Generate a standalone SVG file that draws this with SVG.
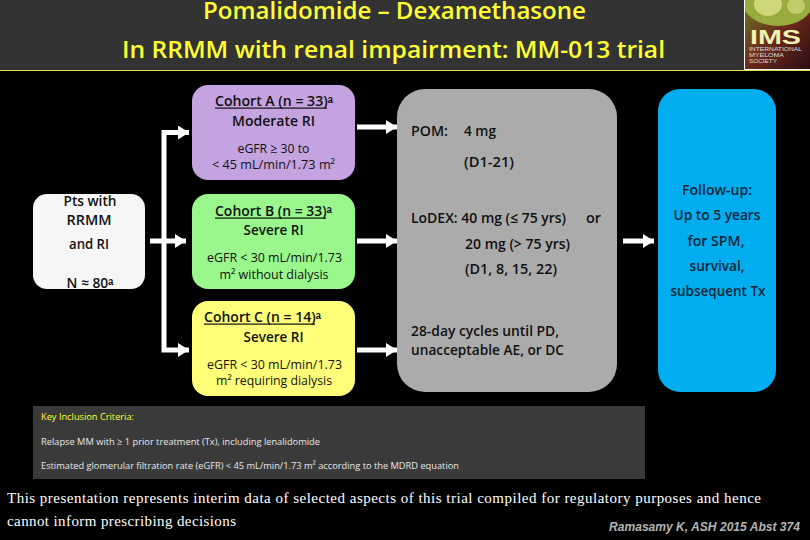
<svg xmlns="http://www.w3.org/2000/svg" width="810" height="540" viewBox="0 0 810 540">
<style>
text{font-family:"Open Sans","Liberation Sans","DejaVu Sans",sans-serif;font-weight:600;fill:#111}
.c{text-anchor:middle}
.t{font-size:24px;fill:#ffff33}
.h{font-size:14.500px}
.ul{fill:#111}
.n{font-size:14.500px}
.s{font-size:13px;font-weight:500}
.b{font-size:14.500px}
.u{fill:#0a2438}
.k{font-size:9.500px;font-weight:400;fill:#e8e8e8}
.f{font-family:"Liberation Serif",serif;font-size:15px;font-weight:400;fill:#fff}
.w{fill:none;stroke:#fff;stroke-width:5}
</style>
<defs>
<marker id="a" markerUnits="userSpaceOnUse" markerWidth="12" markerHeight="16" refX="11" refY="7" orient="auto"><path d="M0 0L11 7L0 14Z" fill="#fff"/></marker>
<linearGradient id="lg" x1="0" y1="0" x2="1" y2="1"><stop offset="0" stop-color="#6a7a24"/><stop offset=".5" stop-color="#6a2a1c"/><stop offset="1" stop-color="#2c0d12"/></linearGradient>
<clipPath id="lc"><rect x="745" y="0" width="65" height="69"/></clipPath>
</defs>
<rect width="810" height="540" fill="#000"/>
<g id="header">
<rect width="810" height="70" fill="#333"/>
<rect y="70" width="810" height="1" fill="#e6dc50"/>
<text class="t c" x="394.500" y="18.500" textLength="383" lengthAdjust="spacingAndGlyphs">Pomalidomide – Dexamethasone</text>
<text class="t c" x="393.500" y="58" textLength="543" lengthAdjust="spacingAndGlyphs">In RRMM with renal impairment: MM-013 trial</text>
</g>
<g id="logo">
<rect x="744" y="0" width="66" height="70" fill="#fff"/>
<rect x="745" y="0" width="65" height="69" fill="url(#lg)"/>
<g clip-path="url(#lc)">
<ellipse cx="778" cy="0" rx="36" ry="26" fill="#9aab3e"/>
<ellipse cx="768" cy="4" rx="14" ry="12" fill="#cfd67a"/>
<ellipse cx="796" cy="6" rx="9" ry="8" fill="#c3cc6c"/>
</g>
<text x="750" y="44" style="font-family:'Liberation Sans',sans-serif;font-weight:700;font-size:20px;fill:#f2f2b0" textLength="51" lengthAdjust="spacingAndGlyphs">IMS</text>
<text x="749" y="51" style="font-family:'Liberation Sans',sans-serif;font-weight:400;font-size:5.500px;fill:#ddd" textLength="53" lengthAdjust="spacingAndGlyphs">INTERNATIONAL</text>
<text x="749" y="57" style="font-family:'Liberation Sans',sans-serif;font-weight:400;font-size:5.500px;fill:#ddd" textLength="35" lengthAdjust="spacingAndGlyphs">MYELOMA</text>
<text x="749" y="63" style="font-family:'Liberation Sans',sans-serif;font-weight:400;font-size:5.500px;fill:#ddd" textLength="28" lengthAdjust="spacingAndGlyphs">SOCIETY</text>
</g>
<g id="connectors">
<path class="w" d="M164 240V132.500H189" marker-end="url(#a)"/>
<path class="w" d="M164 240V350H189" marker-end="url(#a)"/>
<path class="w" d="M150 241H186" marker-end="url(#a)"/>
<path class="w" d="M357 127H397" marker-end="url(#a)"/>
<path class="w" d="M357 241H397" marker-end="url(#a)"/>
<path class="w" d="M357 350H397" marker-end="url(#a)"/>
<path class="w" d="M623 241H654" marker-end="url(#a)"/>
</g>
<g id="pts">
<rect x="33" y="194" width="112" height="95" rx="14" fill="#f6f6f6"/>
<text class="n c" x="90" y="206" textLength="53" lengthAdjust="spacingAndGlyphs">Pts with</text>
<text class="n c" x="89" y="225" textLength="45" lengthAdjust="spacingAndGlyphs">RRMM</text>
<text class="n c" x="89" y="249" textLength="40" lengthAdjust="spacingAndGlyphs">and RI</text>
<text class="n c" x="90" y="288" textLength="47" lengthAdjust="spacingAndGlyphs">N ≈ 80ᵃ</text>
</g>
<g id="cohort-a">
<rect x="192" y="85" width="163" height="95" rx="16" fill="#c4a3e0"/>
<text class="h" x="215" y="106" textLength="118" lengthAdjust="spacingAndGlyphs">Cohort A (n = 33)ᵃ</text>
<rect class="ul" x="215" y="107.500" width="112" height="1.200"/>
<text class="n c" x="273.500" y="126" textLength="83" lengthAdjust="spacingAndGlyphs">Moderate RI</text>
<text class="s c" x="273.500" y="153" textLength="72" lengthAdjust="spacingAndGlyphs">eGFR ≥ 30 to</text>
<text class="s c" x="273.500" y="169" textLength="123" lengthAdjust="spacingAndGlyphs">&lt; 45 mL/min/1.73 m²</text>
</g>
<g id="cohort-b">
<rect x="192" y="194" width="163" height="95" rx="16" fill="#99f78c"/>
<text class="h" x="215" y="216" textLength="117" lengthAdjust="spacingAndGlyphs">Cohort B (n = 33)ᵃ</text>
<rect class="ul" x="215" y="217.500" width="111" height="1.200"/>
<text class="n c" x="273.500" y="235" textLength="60" lengthAdjust="spacingAndGlyphs">Severe RI</text>
<text class="s c" x="274.500" y="262" textLength="135" lengthAdjust="spacingAndGlyphs">eGFR &lt; 30 mL/min/1.73</text>
<text class="s c" x="274" y="279" textLength="109" lengthAdjust="spacingAndGlyphs">m² without dialysis</text>
</g>
<g id="cohort-c">
<rect x="192" y="301" width="163" height="95" rx="16" fill="#ffff79"/>
<text class="h" x="204" y="322" textLength="117" lengthAdjust="spacingAndGlyphs">Cohort C (n = 14)ᵃ</text>
<rect class="ul" x="204" y="323.500" width="111" height="1.200"/>
<text class="n c" x="273.500" y="342" textLength="60" lengthAdjust="spacingAndGlyphs">Severe RI</text>
<text class="s c" x="274.500" y="369" textLength="135" lengthAdjust="spacingAndGlyphs">eGFR &lt; 30 mL/min/1.73</text>
<text class="s c" x="274" y="385" textLength="116" lengthAdjust="spacingAndGlyphs">m² requiring dialysis</text>
</g>
<g id="treatment">
<rect x="397" y="89" width="220" height="303" rx="28" fill="#ababab"/>
<text class="b" x="411" y="136" textLength="37" lengthAdjust="spacingAndGlyphs">POM:</text>
<text class="b" x="464" y="136" textLength="32" lengthAdjust="spacingAndGlyphs">4 mg</text>
<text class="b" x="464" y="167" textLength="50" lengthAdjust="spacingAndGlyphs">(D1-21)</text>
<text class="b" x="411" y="223" textLength="155" lengthAdjust="spacingAndGlyphs">LoDEX: 40 mg (≤ 75 yrs)</text>
<text class="b" x="586" y="223" textLength="15" lengthAdjust="spacingAndGlyphs">or</text>
<text class="b" x="465" y="249" textLength="105" lengthAdjust="spacingAndGlyphs">20 mg (&gt; 75 yrs)</text>
<text class="b" x="465" y="274" textLength="92" lengthAdjust="spacingAndGlyphs">(D1, 8, 15, 22)</text>
<text class="b" x="411" y="336" textLength="148" lengthAdjust="spacingAndGlyphs">28-day cycles until PD,</text>
<text class="b" x="411" y="355" textLength="153" lengthAdjust="spacingAndGlyphs">unacceptable AE, or DC</text>
</g>
<g id="follow-up">
<rect x="658" y="89" width="118" height="303" rx="22" fill="#00adef"/>
<text class="b c u" x="717" y="195" textLength="70" lengthAdjust="spacingAndGlyphs">Follow-up:</text>
<text class="b c u" x="717" y="220" textLength="87" lengthAdjust="spacingAndGlyphs">Up to 5 years</text>
<text class="b c u" x="716" y="246" textLength="57" lengthAdjust="spacingAndGlyphs">for SPM,</text>
<text class="b c u" x="717" y="271" textLength="55" lengthAdjust="spacingAndGlyphs">survival,</text>
<text class="b c u" x="718" y="296" textLength="95" lengthAdjust="spacingAndGlyphs">subsequent Tx</text>
</g>
<g id="criteria">
<rect x="33" y="406" width="612" height="73" fill="#3a3a3a"/>
<text class="k" x="41" y="420" style="fill:#ffff33" textLength="93" lengthAdjust="spacingAndGlyphs">Key Inclusion Criteria:</text>
<text class="k" x="41" y="445" textLength="279" lengthAdjust="spacingAndGlyphs">Relapse MM with ≥ 1 prior treatment (Tx), including lenalidomide</text>
<text class="k" x="41" y="469" textLength="418" lengthAdjust="spacingAndGlyphs">Estimated glomerular filtration rate (eGFR) &lt; 45 mL/min/1.73 m² according to the MDRD equation</text>
</g>
<g id="footer">
<text class="f" x="7" y="503" textLength="754" lengthAdjust="spacing">This presentation represents interim data of selected aspects of this trial compiled for regulatory purposes and hence</text>
<text class="f" x="7" y="526" textLength="229" lengthAdjust="spacing">cannot inform prescribing decisions</text>
<text x="609" y="531" style="font-family:'Liberation Sans',sans-serif;font-weight:700;font-style:italic;font-size:12.500px;fill:#b4b4b4" textLength="191" lengthAdjust="spacingAndGlyphs">Ramasamy K, ASH 2015 Abst 374</text>
</g>
</svg>
